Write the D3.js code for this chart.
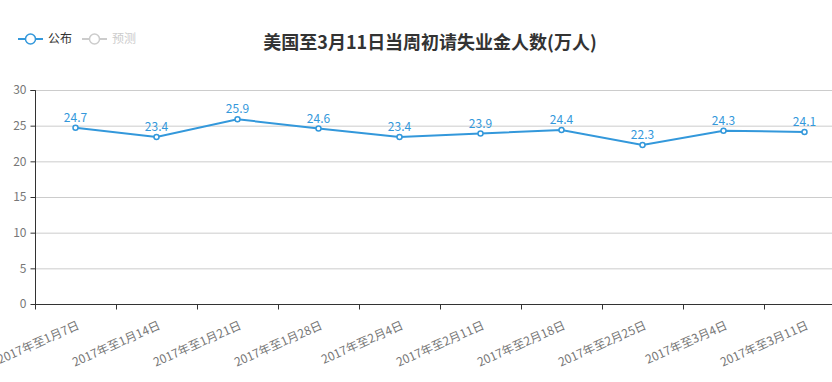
<!DOCTYPE html>
<html><head><meta charset="utf-8">
<script src="https://cdn.jsdelivr.net/npm/d3@7"></script>
<style>body{margin:0;background:#fff;font-family:"Microsoft YaHei","Noto Sans CJK SC",sans-serif;}</style>
</head><body><svg id="c" width="832" height="382"></svg>
<script>
const categories = ["2017年至1月7日","2017年至1月14日","2017年至1月21日","2017年至1月28日","2017年至2月4日","2017年至2月11日","2017年至2月18日","2017年至2月25日","2017年至3月4日","2017年至3月11日"];
const published = [24.7,23.4,25.9,24.6,23.4,23.9,24.4,22.3,24.3,24.1];
const yTicks = [0,5,10,15,20,25,30];
const legendNames = ["公布","预测"];
const title = "美国至3月11日当周初请失业金人数(万人)";

const svg = d3.select("#c");
const font = '"Microsoft YaHei","Noto Sans CJK SC",sans-serif';
const blue = "#3398DB";
const L=35, R=845, T=90, B=304;
const x = d3.scaleBand().domain(categories).range([L,R]);
const y = d3.scaleLinear().domain([0,30]).range([B,T]);

// grid
svg.append("g").selectAll("line").data(yTicks.filter(d=>d>0)).join("line")
  .attr("x1",L).attr("x2",832).attr("y1",d=>y(d)+0.5).attr("y2",d=>y(d)+0.5)
  .attr("stroke","#ccc").attr("stroke-width",1);

// y axis
const ya = svg.append("g").attr("transform",`translate(${L+0.5},0)`)
  .call(d3.axisLeft(y).tickValues(yTicks).tickSize(5).tickPadding(4));
ya.select(".domain").attr("stroke","#333").attr("d",`M-5,${T+0.5}H0V${B}`);
ya.selectAll(".tick line").attr("stroke","#333");
ya.selectAll("text").attr("fill","#777").style("font-size","12px").style("font-family",font);

// x axis
const xa = svg.append("g").attr("transform",`translate(0,${B+0.5})`);
xa.append("line").attr("x1",L).attr("x2",832).attr("stroke","#333");
xa.selectAll("line.t").data(categories).join("line").attr("class","t")
  .attr("x1",d=>Math.round(x(d))+0.5).attr("x2",d=>Math.round(x(d))+0.5).attr("y1",0).attr("y2",5).attr("stroke","#333");
xa.selectAll("text").data(categories).join("text")
  .attr("transform",d=>`translate(${x(d)+x.bandwidth()/2+3},20) rotate(-24)`)
  .attr("text-anchor","end").attr("dy","0.35em")
  .attr("fill","#777").style("font-size","12px").style("font-family",font)
  .text(d=>d);

// line
const cx = d=>x(d)+x.bandwidth()/2;
svg.append("path").datum(published)
  .attr("d", d3.line().x((d,i)=>cx(categories[i])).y(d=>y(d)))
  .attr("fill","none").attr("stroke",blue).attr("stroke-width",2);
svg.append("g").selectAll("circle").data(published).join("circle")
  .attr("cx",(d,i)=>cx(categories[i])).attr("cy",d=>y(d)).attr("r",2.5)
  .attr("fill","#fff").attr("stroke",blue).attr("stroke-width",1.5);
svg.append("g").selectAll("text").data(published).join("text")
  .attr("x",(d,i)=>cx(categories[i])).attr("y",d=>y(d)-6)
  .attr("text-anchor","middle").attr("fill",blue).style("font-size","12px").style("font-family",font)
  .text(d=>d.toFixed(1));

// title
svg.append("text").attr("x",430).attr("y",49).attr("text-anchor","middle")
  .attr("fill","#333").style("font-size","18px").style("font-weight","bold").style("font-family",font)
  .text(title);

// legend
const lg = svg.append("g");
const lcol = [blue,"#ccc"], ltx=[18,82];
legendNames.forEach((n,i)=>{
  const g = lg.append("g").attr("transform",`translate(${ltx[i]},39)`);
  g.append("line").attr("x1",0).attr("x2",25).attr("stroke",lcol[i]).attr("stroke-width",2);
  g.append("circle").attr("cx",12.5).attr("r",5).attr("fill","#fff").attr("stroke",lcol[i]).attr("stroke-width",1.5);
  g.append("text").attr("x",30).attr("y",0).attr("dy","0.35em").attr("fill",i==0?"#333":"#ccc")
    .style("font-size","12px").style("font-family",font).text(n);
});
</script></body></html>
